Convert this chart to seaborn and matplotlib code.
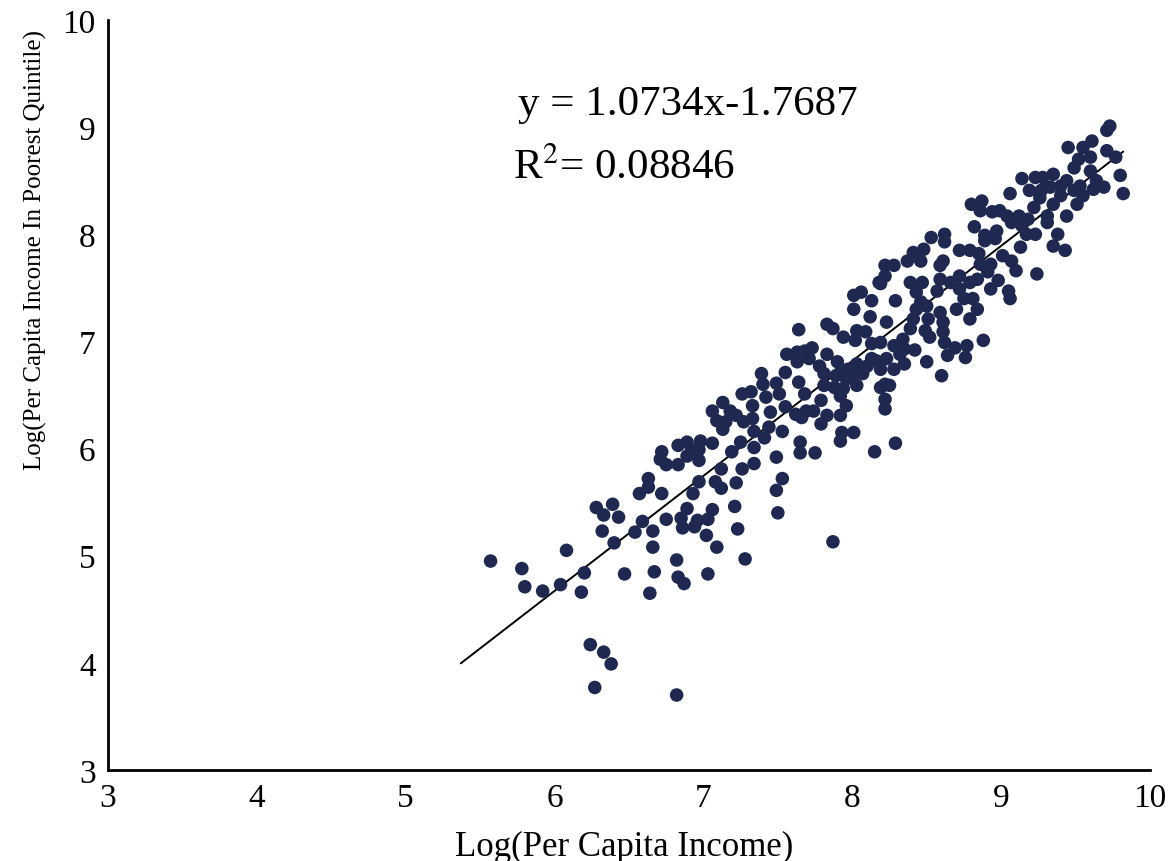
import matplotlib
matplotlib.use("Agg")
import matplotlib.pyplot as plt
import seaborn as sns
import pandas as pd
import numpy as np

# ---- data ----
log_income = [
 5.57,5.78,5.80,5.92,6.04,6.08,6.18,6.20,6.24,6.33,6.38,6.27,6.82,6.28,6.39,6.33,6.43,6.32,6.40,6.47,
 6.54,6.59,6.57,6.63,6.63,6.72,6.66,6.66,6.67,6.64,6.75,6.85,6.89,6.86,6.94,6.96,7.03,7.06,7.02,7.09,
 6.82,6.83,6.87,7.03,6.93,6.97,7.08,7.12,7.22,7.21,7.23,7.28,
 7.12,7.26,7.34,7.19,7.34,7.25,7.06,6.97,6.97,6.98,6.92,6.89,6.83,6.83,6.89,6.75,6.71,6.72,
 7.41,7.34,7.44,7.53,7.65,7.65,7.75,7.49,7.53,7.49,7.50,7.87,7.06,7.13,7.18,7.09,7.15,7.13,7.22,7.27,
 7.33,7.33,7.26,7.32,7.40,7.49,7.42,7.51,7.45,7.55,7.64,7.68,7.62,7.66,7.69,7.74,7.81,7.79,7.83,7.79,
 7.88,7.92,7.92,
 7.64,7.83,7.87,8.01,8.01,8.03,8.02,7.94,8.01,7.96,7.92,7.90,7.83,7.78,7.81,7.71,7.68,7.73,7.63,7.56,
 7.63,7.55,7.39,8.03,7.94,7.92,7.96,7.93,8.01,8.15,8.29,
 8.50,8.60,8.35,8.28,8.22,8.19,8.25,8.22,8.22,8.10,8.13,8.23,
 9.73,9.71,9.45,9.55,9.61,9.71,9.77,9.60,9.52,9.49,9.60,9.80,9.82,9.64,9.69,9.62,9.53,9.49,9.55,9.51,
 9.44,9.40,9.35,9.28,9.23,9.14,9.33,9.40,9.35,9.27,9.19,9.26,9.22,9.18,9.31,9.31,9.44,9.06,9.12,9.14,
 9.17,9.23,9.13,9.38,9.35,9.43,9.24,9.04,9.07,8.99,8.94,8.86,8.80,8.87,8.82,8.89,8.97,8.89,8.96,9.01,
 9.07,9.10,8.72,8.79,8.85,8.86,8.93,8.91,8.98,8.93,9.05,9.06,8.53,8.62,8.62,8.48,8.41,8.37,8.46,8.61,
 8.59,8.22,8.28,8.22,8.19,8.39,8.47,8.59,8.57,8.66,8.72,8.72,8.79,8.84,8.43,8.46,8.50,8.43,8.75,8.81,
 8.84,8.70,8.79,8.59,8.61,8.51,8.41,8.39,8.49,8.52,8.61,8.62,8.69,8.77,8.88,8.34,8.35,8.28,8.19,8.13,
 8.12,8.23,8.09,8.06,8.13,8.29,8.18,
 8.76,8.64,8.42,8.32,8.03,8.16,8.19,7.97,7.89,8.07,
]
log_income_poorest = [
 4.95,4.88,4.71,4.67,4.73,5.05,4.66,4.84,4.17,4.10,3.99,3.77,3.70,5.45,5.48,5.38,5.36,5.23,5.12,4.83,
 5.22,5.32,5.58,5.64,5.72,5.58,5.23,5.08,4.85,4.65,5.34,5.35,5.44,5.26,5.27,5.33,5.34,5.43,5.19,5.08,
 4.96,4.80,4.74,4.83,5.58,5.69,5.69,5.63,5.68,5.46,5.25,4.97,
 5.81,5.81,5.86,5.97,6.01,6.06,6.05,5.89,5.99,6.07,5.99,6.06,6.03,5.85,5.93,5.85,5.90,5.97,
 6.10,6.16,6.20,6.16,6.06,5.96,5.96,5.92,5.72,5.61,5.40,5.13,6.35,6.43,6.35,6.26,6.25,6.18,6.31,6.25,
 6.40,6.28,6.51,6.53,6.60,6.61,6.48,6.51,6.34,6.39,6.62,6.51,6.32,6.29,6.35,6.35,6.59,6.45,6.31,6.23,
 6.57,6.31,6.07,
 7.11,7.16,7.12,7.43,7.30,7.10,7.01,7.04,6.70,6.65,6.71,6.81,6.88,6.77,6.70,6.84,6.91,6.94,6.90,6.88,
 6.81,6.71,6.70,6.59,6.56,6.49,6.40,6.15,6.15,5.97,6.05,
 6.81,6.68,6.79,6.74,6.60,6.57,6.59,6.46,6.37,6.77,6.84,6.84,
 9.01,8.97,8.81,8.81,8.87,8.78,8.72,8.72,8.70,8.62,8.59,8.55,8.38,8.50,8.44,8.42,8.45,8.41,8.36,8.28,
 8.50,8.45,8.56,8.53,8.53,8.52,8.44,8.36,8.28,8.41,8.41,8.34,8.25,8.14,8.17,8.11,8.17,8.38,8.17,8.08,
 8.00,8.00,7.88,8.00,7.89,7.85,7.63,8.17,8.11,8.22,8.21,8.22,8.28,8.31,8.07,7.99,8.03,7.94,7.96,7.80,
 7.75,7.66,7.85,7.85,7.82,7.72,7.72,7.65,7.57,7.49,7.47,7.40,7.97,8.00,7.93,7.86,7.83,7.75,7.75,7.75,
 7.71,7.71,7.71,7.61,7.54,7.55,7.55,7.58,7.47,7.55,7.61,7.49,7.55,7.58,7.46,7.37,7.33,7.30,7.40,7.40,
 7.30,7.30,7.21,7.27,7.18,7.21,7.21,7.12,7.10,7.04,7.09,6.99,6.94,6.96,7.01,7.02,6.93,6.96,6.99,6.98,
 7.23,7.18,7.09,7.46,7.38,7.38,7.55,
 6.85,6.87,6.92,6.88,6.79,6.82,6.74,6.74,6.68,6.70,
]
fit_slope = 1.0734
fit_intercept = -1.7687
fit_x_range = [5.37, 9.82]
equation_text = "y = 1.0734x-1.7687"
r2_text = r"R$^{2}$= 0.08846"
x_label = "Log(Per Capita Income)"
y_label = "Log(Per Capita Income In Poorest Quintile)"
x_ticks = [3, 4, 5, 6, 7, 8, 9, 10]
y_ticks = [3, 4, 5, 6, 7, 8, 9, 10]

df = pd.DataFrame({"x": log_income, "y": log_income_poorest})

sns.set_style("white")
plt.rcParams["font.family"] = ["Liberation Serif", "DejaVu Serif"]
plt.rcParams["mathtext.fontset"] = "stix"
plt.rcParams["text.color"] = "black"
plt.rcParams["axes.labelcolor"] = "black"
plt.rcParams["xtick.color"] = "black"
plt.rcParams["ytick.color"] = "black"

fig = plt.figure(figsize=(11.68, 8.62), dpi=100)
ax = fig.add_axes([108/1168, 91/862, 1042/1168, 750/862])

sns.scatterplot(data=df, x="x", y="y", ax=ax, color="#1e2850", s=95,
                linewidth=0, edgecolor="none", zorder=3)

fx = np.array(fit_x_range)
ax.plot(fx, fit_slope * fx + fit_intercept, color="black", lw=1.4, zorder=2)

ax.set_xlim(3, 10)
ax.set_ylim(3, 10)
ax.set_xticks(x_ticks)
ax.set_yticks(y_ticks)
ax.tick_params(axis="both", direction="out", length=6, width=1.5, labelsize=24,
               color="black", labelcolor="black", pad=3)
for side in ["top", "right"]:
    ax.spines[side].set_visible(False)
for side in ["left", "bottom"]:
    ax.spines[side].set_linewidth(2)
    ax.spines[side].set_color("black")

ax.set_xlabel(x_label, fontsize=25, color="black")
ax.set_ylabel(y_label, fontsize=18, color="black")
ax.xaxis.set_label_coords(0.495, -0.080)
ax.yaxis.set_label_coords(-0.059, 0.695)

ax.text(5.754, 9.216, equation_text, fontsize=31, va="center", ha="left", color="black")
ax.text(5.72, 8.628, r2_text, fontsize=31, va="center", ha="left", color="black")

fig.savefig("out.png", dpi=100)
